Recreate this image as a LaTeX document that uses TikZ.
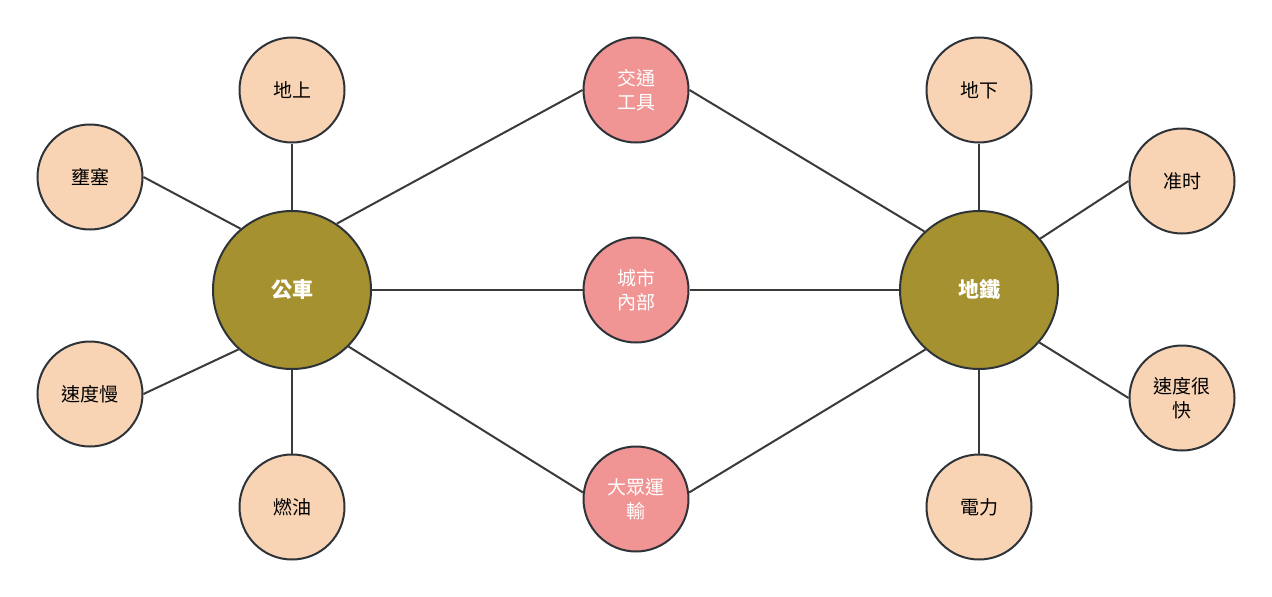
\documentclass[tikz,border=0pt]{standalone}
\usepackage{fontspec}
\newfontfamily\cjk{Noto Sans CJK TC}
\definecolor{olive}{HTML}{A59130}
\definecolor{pinkc}{HTML}{F09494}
\definecolor{peach}{HTML}{F8D4B4}
\definecolor{rim}{HTML}{2D3338}
\definecolor{edge}{HTML}{3A3A3A}
\tikzset{
  hub/.style={circle, draw=rim, line width=2pt, fill=olive, minimum size=158pt, inner sep=0pt, text=white, font=\cjk\bfseries\fontsize{21}{25}\selectfont},
  mid/.style={circle, draw=rim, line width=2pt, fill=pinkc, minimum size=105pt, inner sep=0pt, text=white, align=center, font=\cjk\fontsize{19}{24}\selectfont},
  leaf/.style={circle, draw=rim, line width=2pt, fill=peach, minimum size=105pt, inner sep=0pt, text=black, align=center, font=\cjk\fontsize{19}{24}\selectfont},
  link/.style={draw=edge, line width=2pt}
}
\begin{document}
\begin{tikzpicture}[x=1pt,y=-1pt]
\useasboundingbox (0,0) rectangle (1272,597);
\node[hub] (bus) at (292,290) {公車};
\node[hub] (metro) at (979,290) {地鐵};
\node[leaf] (up) at (292,90) {地上};
\node[leaf] (jam) at (90,177) {壅塞};
\node[leaf] (slow) at (90,394) {速度慢};
\node[leaf] (oil) at (292,507) {燃油};
\node[mid] (tool) at (636,90) {交通\\工具};
\node[mid] (city) at (636,290) {城市\\內部};
\node[mid] (mass) at (636,499) {大眾運\\輸};
\node[leaf] (down) at (979,90) {地下};
\node[leaf] (ontime) at (1182,181) {准时};
\node[leaf] (fast) at (1182,398) {速度很\\快};
\node[leaf] (power) at (979,507) {電力};
\draw[link] (bus.north) -- (up.south);
\draw[link] (bus.south) -- (oil.north);
\draw[link] (bus.130) -- (jam.east);
\draw[link] (bus.228) -- (slow.east);
\draw[link] (bus.56) -- (tool.west);
\draw[link] (bus.east) -- (city.west);
\draw[link] (bus.315) -- (mass.173);
\draw[link] (metro.north) -- (down.south);
\draw[link] (metro.south) -- (power.north);
\draw[link] (metro.40) -- (ontime.west);
\draw[link] (metro.319) -- (fast.west);
\draw[link] (metro.133) -- (tool.east);
\draw[link] (metro.west) -- (city.east);
\draw[link] (metro.228) -- (mass.7);
\end{tikzpicture}
\end{document}
